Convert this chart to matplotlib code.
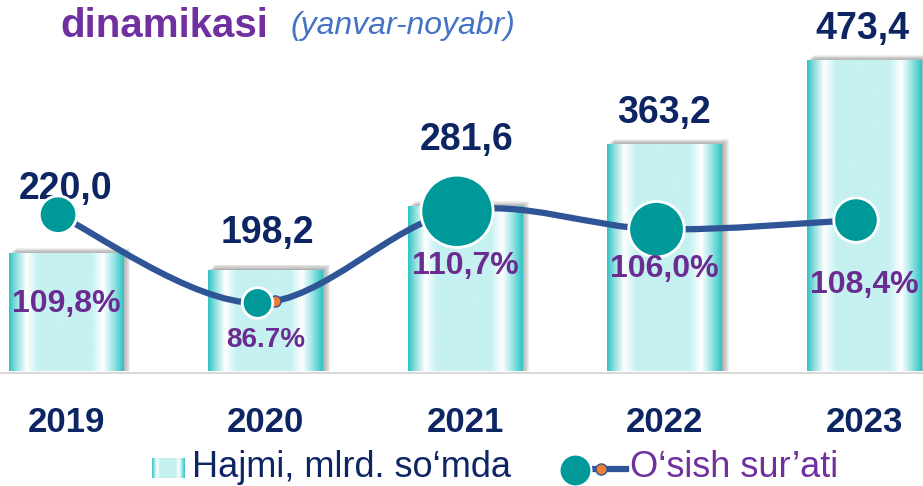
import numpy as np
import matplotlib
matplotlib.use("Agg")
import matplotlib.pyplot as plt
from matplotlib.colors import LinearSegmentedColormap
from matplotlib.lines import Line2D
from matplotlib.path import Path
from matplotlib.patches import PathPatch, Rectangle
from matplotlib.transforms import offset_copy

plt.rcParams['font.family'] = ['Liberation Sans', 'DejaVu Sans']

# 1. data
years = ['2019', '2020', '2021', '2022', '2023']
hajmi = [220.0, 198.2, 281.6, 363.2, 473.4]          # mlrd. so'm
hajmi_labels = ['220,0', '198,2', '281,6', '363,2', '473,4']
osish = [109.8, 86.7, 110.7, 106.0, 108.4]           # o'sish sur'ati, %
osish_labels = ['109,8%', '86.7%', '110,7%', '106,0%', '108,4%']

# colours
navy = '#0d2563'
purple = '#6b2c91'
line_blue = '#2f5597'
teal = '#009999'

W, H = 923, 486
def fx(px):
    return px / W
def fy(py):
    return 1 - py / H

fig = plt.figure(figsize=(W / 100, H / 100), dpi=100)
ax = fig.add_axes([0, fy(371), 1, 371 / H])
ax2 = ax.twinx()

x = np.arange(len(years))
w = 0.576

# horizontal "cylinder" gradient of the bars
cmap = LinearSegmentedColormap.from_list('bar', [
    (0.00, '#2ec4c4'), (0.05, '#7fdada'), (0.15, '#ffffff'), (0.25, '#c6f1f1'),
    (0.72, '#c6f1f1'), (0.82, '#ffffff'), (0.90, '#a8e8e8'), (1.00, '#2ec4c4')])
grad = cmap(np.linspace(0, 1, 256))[None, :, :]

# 2. bars (volume)
bars = ax.bar(x, hajmi, width=w, color='none', zorder=2)
for b in bars:
    x0, h = b.get_x(), b.get_height()
    # soft grey shadow up-right
    for k in range(1, 8):
        tr = offset_copy(ax.transData, fig=fig, x=k, y=k * 0.8, units='dots')
        ax.add_patch(Rectangle((x0, 0), w, h, transform=tr, color='#6f6f6f',
                               alpha=0.1, lw=0, zorder=1))
    ax.imshow(grad, extent=[x0, x0 + w, 0, h], aspect='auto', zorder=2)

val_dy = [65, 37, 67, 32, 32]
val_dx = [0, 2, 2, 0, -2]
for i in range(len(years)):
    ax.annotate(hajmi_labels[i], (x[i], hajmi[i]), xytext=(val_dx[i], val_dy[i]),
                textcoords='offset pixels', ha='center', va='center',
                fontsize=27, fontweight='bold', color=navy, zorder=6)

ax.set_xlim(-0.331, 4.296)
ax.set_ylim(66, 553)
ax.set_xticks(x, years)
ax.tick_params(axis='x', length=0, pad=25, labelsize=25, labelcolor=navy)
for t in ax.get_xticklabels():
    t.set_fontweight('bold')
ax.set_yticks([])
ax2.set_yticks([])
for a in (ax, ax2):
    for s in a.spines.values():
        s.set_visible(False)

# 3. growth rate line (smooth curve through the points)
xs = x - 0.04
pts = np.column_stack([xs, osish])
n = len(pts)
verts = [pts[0]]
codes = [Path.MOVETO]
for i in range(n - 1):
    p0 = pts[max(i - 1, 0)]
    p1 = pts[i]
    p2 = pts[i + 1]
    p3 = pts[min(i + 2, n - 1)]
    verts += [p1 + (p2 - p0) / 6, p2 - (p3 - p1) / 6, p2]
    codes += [Path.CURVE4] * 3
ax2.add_patch(PathPatch(Path(verts, codes), fill=False, edgecolor=line_blue,
                        lw=4.5, capstyle='round', zorder=3))

# small orange marker peeking out behind the 2020 point
ax2.plot([xs[1]], [osish[1]], marker='o', ms=8, mfc='#ed7d31', mec=line_blue, mew=1,
         transform=offset_copy(ax2.transData, fig=fig, x=17, y=2, units='dots'), zorder=4)

marker_sizes = [27, 22, 52, 40, 32]
ax2.scatter(xs, osish, s=np.array(marker_sizes) ** 2, color=teal, edgecolors='white',
            linewidths=2, zorder=5)

pct_dy = [89, 37, 55, 40, 65]
pct_fs = [23, 20, 23, 23, 23]
for i in range(len(years)):
    ax2.annotate(osish_labels[i], (x[i], osish[i]), xytext=(0, -pct_dy[i]),
                 textcoords='offset pixels', ha='center', va='center',
                 fontsize=pct_fs[i], fontweight='bold', color=purple, zorder=6)

ax2.set_ylim(68.9, 166.0)
ax2.set_xlim(-0.331, 4.296)

# baseline
fig.add_artist(Line2D([0, 1], [fy(373)] * 2, transform=fig.transFigure,
                      color='#d9d9d9', lw=1.5))

# 4. title
fig.text(fx(60), fy(37), 'dinamikasi', fontsize=29, fontweight='bold',
         color='#7030a0', va='baseline')
fig.text(fx(290), fy(34), '(yanvar-noyabr)', fontsize=23, style='italic',
         color='#4472c4', va='baseline')

# 5. legend (drawn by hand)
lax = fig.add_axes([fx(152), fy(478), 33 / W, 20 / H])
lax.imshow(grad, aspect='auto')
lax.axis('off')
fig.text(fx(192), fy(467), 'Hajmi, mlrd. so‘mda', fontsize=26, color=navy,
         va='center', ha='left')
fig.add_artist(Line2D([fx(585), fx(626)], [fy(469)] * 2, lw=4.5, color=line_blue,
                      transform=fig.transFigure))
fig.add_artist(Line2D([fx(601)], [fy(469)], marker='o', ms=8, mfc='#ed7d31',
                      mec=line_blue, transform=fig.transFigure))
fig.add_artist(Line2D([fx(575)], [fy(470)], marker='o', ms=23, mfc=teal,
                      mec='white', mew=1.5, transform=fig.transFigure))
fig.text(fx(630), fy(467), 'O‘sish sur’ati', fontsize=26, color='#7030a0',
         va='center', ha='left')

fig.savefig('out.png', dpi=100)
